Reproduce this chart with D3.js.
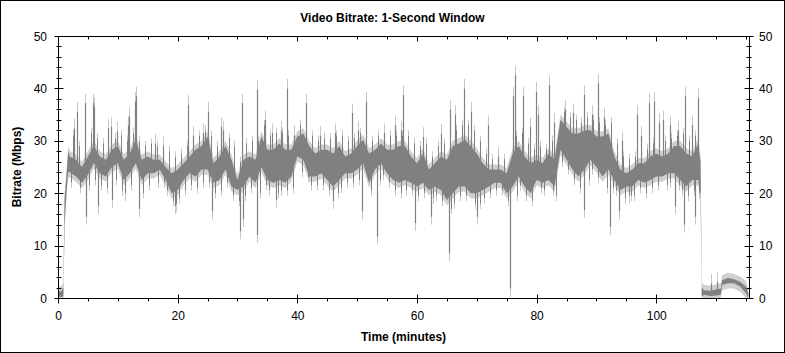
<!DOCTYPE html>
<html>
<head>
<meta charset="utf-8">
<script src="https://cdn.jsdelivr.net/npm/d3@7"></script>
<style>
  body { margin: 0; background: #fff; }
  svg { display: block; }
  text { font-family: Arial, "Liberation Sans", sans-serif; }
</style>
</head>
<body>
<svg id="chart"></svg>
<script>
// time in minutes and the dark band (typical low / high bitrate, Mbps)
const minutes = [0, 0.5, 0.9, 1.1, 1.4, 1.7, 2, 3, 4, 5, 6, 7, 8, 9, 10, 11, 12, 13, 14, 15, 16, 17, 18, 19, 20,
  21, 22, 23, 24, 25, 26, 27, 28, 29, 30, 31, 32, 33, 34, 35, 36, 37, 38, 39, 40, 41, 42, 43, 44, 45, 46, 47, 48, 49, 50,
  51, 52, 53, 54, 55, 56, 57, 58, 59, 60, 61, 62, 63, 64, 65, 66, 67, 68, 69, 70, 71, 72, 73, 74, 75, 76, 77, 78, 79, 80,
  81, 82, 83, 84, 85, 86, 87, 88, 89, 90, 91, 92, 93, 94, 95, 96, 97, 98, 99, 100, 101, 102, 103, 104, 105, 106, 107,
  107.4, 107.6, 108, 109, 110, 110.8, 111, 112, 113, 114, 115, 115.4];
const bandLow = [0.3, 0.2, 0.3, 14, 20, 24, 24, 23.2, 22, 23.5, 25.7, 23.8, 23.2, 25, 25.7, 22.5, 23.8, 25.7, 22.5, 23.8, 23.8, 24.5, 22.5, 20, 20.6,
  22.5, 23.8, 23.2, 24.5, 24.5, 22, 22.5, 24.5, 21.3, 20.6, 21.3, 23.2, 22, 25, 22.5, 22, 22.5, 22, 23.2, 27, 26.4, 23.2, 23.2, 23.8, 22.5, 21.3, 22.5, 23.8, 23.8, 24.5,
  25.7, 22, 24.5, 25.7, 23.8, 22.5, 22, 22.5, 22, 21.3, 22, 20.6, 21.3, 20.6, 18.7, 20, 21.3, 21.3, 20, 20, 20.6, 21.3, 22, 22, 20, 21.3, 23.2, 21.3, 20, 22.5,
  22, 22.5, 21.3, 28.3, 26.4, 24.5, 23.2, 24.5, 26.4, 25, 23.2, 24.5, 22.5, 20.6, 21.3, 21.3, 22.5, 22, 22.5, 23.2, 23.2, 23.8, 23.8, 22.5, 21.3, 22.5, 22.5,
  20, 0.3, 0.6, 0.4, 0.5, 0.6, 2.5, 2.8, 2.8, 2.2, 0.9, 0];
const bandHigh = [1.5, 1.2, 2, 19, 23, 28, 27, 26.4, 25, 27, 29, 27, 26.4, 28.3, 29, 26.4, 27.6, 30.2, 26.4, 27, 26.4, 26.4, 25, 23.8, 24.5,
  25.7, 27, 28.3, 29, 30.8, 25.7, 27, 29, 26.4, 22.5, 26.4, 27, 26.4, 30.8, 28.3, 28.3, 29.5, 28.3, 28.3, 30.8, 31.4, 29, 27.6, 28.3, 28.3, 27.6, 29, 27, 27.6, 29,
  30.2, 27.6, 28.3, 29.5, 28.3, 28.3, 29, 29, 27, 25.7, 27.6, 24.5, 25.7, 27, 26.4, 29, 29.5, 30.2, 29, 27.6, 25.7, 24.5, 24.5, 24.5, 23.8, 27.6, 29, 27, 25.7, 26.4,
  25.7, 27.6, 26.4, 34, 32.7, 31.4, 31.4, 32, 32, 30.8, 30.8, 31.4, 27, 24.5, 23.8, 24.5, 25.7, 25.7, 27, 27.6, 27, 27.6, 29, 29, 27.6, 27, 29.5,
  26, 2, 1.5, 1.4, 1.6, 1.8, 3.4, 3.8, 3.6, 3.1, 2.2, 0.8];

// tall short peaks above the band [minute, Mbps]
const peaks = [[2.6, 32.4], [3.2, 35.6], [4.5, 37.2], [5.9, 37.2], [6.1, 36.5], [8.4, 32.4], [8.9, 32.7], [9.8, 31.8],
  [11.7, 33], [11.9, 34.6], [12.8, 37.5], [13.0, 38.5], [16.2, 29.5], [17.6, 29], [21.7, 36.9], [22.6, 31], [24.3, 31.5], [25.1, 35.6],
  [27.3, 32.7], [27.6, 32], [30.7, 37.2], [33.3, 39.8], [34.6, 34], [35.8, 31.5], [37.2, 32], [38.3, 40], [39.5, 31], [41.4, 37.2],
  [43.8, 31], [46.3, 31.5], [49.1, 35.3], [50.1, 32], [51.4, 37.5], [54.5, 31.5], [56.3, 33], [57.4, 32], [57.6, 38.8], [61.0, 30.8],
  [64.0, 31.4], [65.6, 36], [66.4, 35], [67.9, 40], [69.1, 35.6], [71.9, 33], [73.6, 27], [76.0, 38.5], [76.4, 42.5], [77.7, 38.5],
  [78.9, 32.7], [79.9, 39.4], [80.2, 35], [82.0, 40.7], [82.9, 33.5], [84.8, 36], [86.1, 35.3], [87.9, 38.8], [89.2, 35], [90.3, 41],
  [91.2, 34.5], [94.3, 30], [96.7, 35], [97.5, 31], [98.8, 37.2], [99.7, 37.5], [100.4, 33.5], [101.2, 34], [102.3, 33], [103.6, 32],
  [104.8, 38.5], [105.9, 33], [107.0, 38.2], [110.2, 3.1], [109.1, 2.8]];

// deep short drops below the band [minute, Mbps]
const drops = [[4.6, 15.5], [6.7, 17.5], [9.1, 18.7], [11.2, 20], [13.6, 17], [19.5, 17.5], [19.7, 18], [25.7, 16.5],
  [30.5, 12.7], [30.9, 15], [33.2, 12], [36.4, 18.7], [45.9, 18.5], [50.8, 16.5], [53.4, 11.7], [59.7, 14.3], [62.3, 15.5],
  [65.4, 8.5], [70.0, 15.5], [75.6, 1.8], [88.0, 16.8], [92.2, 13.5], [93.7, 16.5], [95.4, 19.5], [103.1, 17.5], [104.6, 14], [106.4, 15.5]];

// smaller flicker above the band [minute, Mbps]
const flickerUp = [[2.5, 31], [3.5, 29], [5.5, 31.5], [6.5, 30.5], [7.5, 29.5], [9.5, 30.5], [10.5, 31], [11.5, 30], [12.5, 31.5],
  [13.5, 30], [14.5, 29], [15.5, 29.5], [16.5, 29], [17.5, 28.5], [18.5, 28], [19.5, 27], [20.5, 27.5], [21.5, 29], [22.5, 30],
  [23.5, 31], [24.5, 32], [25.5, 31], [26.5, 29], [28.5, 30.5], [29.5, 29], [30.5, 26], [31.5, 29.5], [32.5, 30], [33.5, 30],
  [34.5, 33], [35.5, 31], [36.5, 31.5], [37.5, 31.5], [38.5, 31], [39.5, 32], [40.5, 33], [41.5, 33], [42.5, 31], [43.5, 30],
  [44.5, 30.5], [45.5, 30.5], [46.5, 31], [47.5, 31], [48.5, 30], [49.5, 30.5], [50.5, 31.5], [51.5, 32], [52.5, 30], [53.5, 31],
  [54.5, 31.5], [55.5, 31], [56.5, 31], [57.5, 31], [58.5, 31], [59.5, 29.5], [60.5, 29], [61.5, 29.5], [62.5, 27], [63.5, 29],
  [64.5, 29.5], [65.5, 32], [66.5, 32], [67.5, 33], [68.5, 33], [69.5, 32], [70.5, 30], [71.5, 27.5], [72.5, 26.5], [73.5, 26.5],
  [74.5, 26.5], [75.5, 26], [76.5, 31], [77.5, 31.5], [78.5, 29.5], [79.5, 28.5], [80.5, 29], [81.5, 28.5], [82.5, 30], [83.5, 31],
  [84.5, 35.5], [85.5, 34.5], [86.5, 34], [87.5, 33.5], [88.5, 34.5], [89.5, 34], [90.5, 33.5], [91.5, 33], [92.5, 33.5], [93.5, 29.5],
  [94.5, 27], [95.5, 26.5], [96.5, 27], [97.5, 28], [98.5, 28.5], [99.5, 29.5], [100.5, 30], [101.5, 30], [102.5, 30.5], [103.5, 31],
  [104.5, 31.5], [105.5, 30], [106.5, 31]];

// smaller flicker below the band [minute, Mbps]
const flickerDown = [[2.25, 22], [3.75, 21], [5.25, 21.5], [6.25, 22.5], [7.25, 21.5], [8.25, 21], [9.75, 22.5], [10.75, 20.5],
  [12.25, 21.5], [14.25, 20], [15.25, 21.5], [16.75, 22], [17.75, 22], [18.25, 20.5], [19.25, 18.5], [20.25, 19], [21.25, 20.5],
  [22.25, 21.5], [23.25, 21], [24.25, 22], [25.25, 22], [26.25, 20], [27.25, 20.5], [28.25, 22], [29.25, 19.5], [30.25, 18.5],
  [31.25, 19.5], [32.25, 21], [33.75, 20], [34.75, 21.5], [35.25, 20.5], [36.75, 20], [37.25, 20.5], [38.25, 20.5], [39.25, 21],
  [40.75, 24], [41.75, 23], [42.25, 21.5], [43.25, 21.5], [44.25, 21.5], [45.25, 20.5], [46.75, 20], [47.25, 21], [48.25, 22],
  [49.25, 22], [50.25, 22.5], [51.75, 23], [52.25, 20.5], [53.75, 22.5], [54.25, 23.5], [55.25, 22], [56.25, 20.5], [57.25, 20],
  [58.25, 20.5], [59.25, 20.5], [60.25, 19.5], [61.25, 20], [62.75, 19], [63.25, 19.5], [64.25, 18.5], [65.75, 17], [66.25, 18],
  [67.25, 19.5], [68.25, 19.5], [69.75, 18], [70.5, 18], [71.25, 19], [72.25, 20], [73.25, 20.5], [74.25, 20.5], [75.25, 18.5],
  [76.75, 19.5], [77.25, 21.5], [78.25, 19.5], [79.25, 18.5], [80.75, 21], [81.25, 20.5], [82.75, 20.5], [83.25, 19.5], [84.25, 26],
  [85.25, 24.5], [86.25, 22.5], [87.25, 21], [88.75, 22.5], [89.25, 24.5], [90.25, 23], [91.75, 21], [92.75, 21], [93.25, 20.5],
  [94.75, 19], [95.75, 19.5], [96.25, 19.5], [97.25, 21], [98.25, 20], [99.25, 21], [100.25, 21.5], [101.75, 21.5], [102.25, 22],
  [103.75, 21.5], [104.25, 20.5], [105.25, 19.5], [106.25, 20.5], [107.2, 20]];

const xMajor = [0, 20, 40, 60, 80, 100];
const xMinor = d3.range(0, 116, 5);
const yMajor = [0, 10, 20, 30, 40, 50];
const yMinor = d3.range(0, 51, 2);

const W = 785, H = 353;
const margin = { top: 36, right: 36, bottom: 55, left: 58 };

const svg = d3.select("#chart").attr("width", W).attr("height", H);

// outer frame
svg.append("rect")
    .attr("x", 0.5).attr("y", 0.5)
    .attr("width", W - 1).attr("height", H - 1)
    .attr("fill", "#fff").attr("stroke", "#000");

const x = d3.scaleLinear().domain([0, 115.5]).range([margin.left, W - margin.right]);
const y = d3.scaleLinear().domain([0, 50]).range([H - margin.bottom, margin.top]);

const data = minutes.map((m, i) => ({ t: m, lo: bandLow[i], hi: bandHigh[i] }));

const plot = svg.append("g");

// light envelope
const pad = 1.0;
plot.append("path")
    .datum(data)
    .attr("fill", "#d0d0d0")
    .attr("d", d3.area()
        .x(d => x(d.t))
        .y0(d => y(Math.max(0, d.lo - pad)))
        .y1(d => y(d.hi + pad)));

// mid value of the band at a time
const mid = t => {
    const i = d3.bisector(d => d.t).center(data, t);
    return (data[i].lo + data[i].hi) / 2;
};
const px = t => Math.round(x(t)) + 0.5;

// a stem from the band to a value, with a light tip beyond it
function stems(list, dir, tip, width) {
    const g = plot.append("g");
    g.selectAll("line.tip").data(list).join("line")
        .attr("class", "tip")
        .attr("x1", d => px(d[0])).attr("x2", d => px(d[0]))
        .attr("y1", d => y(d[1])).attr("y2", d => y(Math.max(0, d[1] + dir * tip)))
        .attr("stroke", "#c8c8c8");
    g.selectAll("line.stem").data(list).join("line")
        .attr("class", "stem")
        .attr("x1", d => px(d[0])).attr("x2", d => px(d[0]))
        .attr("y1", d => y(mid(d[0]))).attr("y2", d => y(d[1]))
        .attr("stroke", "#808080").attr("stroke-width", width);
}
stems(flickerUp, 1, 1, 1);
stems(flickerDown, -1, 1, 1);

// dark band
plot.append("path")
    .datum(data)
    .attr("fill", "#808080")
    .attr("d", d3.area()
        .x(d => x(d.t))
        .y0(d => y(d.lo))
        .y1(d => y(d.hi)));

stems(peaks, 1, 1.8, 1.2);
stems(drops, -1, 1.5, 1.2);

// axes
const x0 = margin.left + 0.5, x1 = W - margin.right + 0.5;
const yTop = margin.top + 0.5, yBot = H - margin.bottom + 0.5;

const ax = svg.append("g").attr("stroke", "#000").attr("fill", "none");
ax.append("rect")
    .attr("x", x0).attr("y", yTop)
    .attr("width", x1 - x0).attr("height", yBot - yTop);

const snap = v => Math.round(v) + 0.5;

// left and right ticks
yMinor.forEach(v => {
    const yy = snap(y(v));
    const major = yMajor.includes(v);
    const o = major ? 4 : 2, i = major ? 5 : 3;
    ax.append("line").attr("x1", x0 - o).attr("x2", x0 + i).attr("y1", yy).attr("y2", yy);
    ax.append("line").attr("x1", x1 - i).attr("x2", x1 + o).attr("y1", yy).attr("y2", yy);
});

// bottom and top ticks
xMinor.forEach(v => {
    const xx = snap(x(v));
    const major = xMajor.includes(v);
    if (major) {
        ax.append("line").attr("x1", xx).attr("x2", xx).attr("y1", yBot - 4).attr("y2", yBot + 5);
        ax.append("line").attr("x1", xx).attr("x2", xx).attr("y1", yTop).attr("y2", yTop + 5);
    } else {
        ax.append("line").attr("x1", xx).attr("x2", xx).attr("y1", yBot).attr("y2", yBot + 3);
        ax.append("line").attr("x1", xx).attr("x2", xx).attr("y1", yTop).attr("y2", yTop + 3);
    }
});

// tick labels
const labels = svg.append("g").attr("font-size", 12).attr("fill", "#000");
labels.selectAll(".yl").data(yMajor).join("text")
    .attr("x", margin.left - 11).attr("y", d => y(d) + 4.5)
    .attr("text-anchor", "end").text(d => d);
labels.selectAll(".yr").data(yMajor).join("text")
    .attr("x", W - margin.right + 10).attr("y", d => y(d) + 4.5)
    .attr("text-anchor", "start").text(d => d);
labels.selectAll(".xl").data(xMajor).join("text")
    .attr("x", d => x(d) + 0.5).attr("y", H - margin.bottom + 22)
    .attr("text-anchor", "middle").text(d => d);

// titles
svg.append("text")
    .attr("x", W / 2).attr("y", 22)
    .attr("text-anchor", "middle")
    .attr("font-size", 12).attr("font-weight", "bold")
    .text("Video Bitrate: 1-Second Window");

svg.append("text")
    .attr("x", (margin.left + W - margin.right) / 2).attr("y", H - 12)
    .attr("text-anchor", "middle")
    .attr("font-size", 12).attr("font-weight", "bold")
    .text("Time (minutes)");

svg.append("text")
    .attr("transform", `translate(21, ${(margin.top + H - margin.bottom) / 2}) rotate(-90)`)
    .attr("text-anchor", "middle")
    .attr("font-size", 12).attr("font-weight", "bold")
    .text("Bitrate (Mbps)");
</script>
</body>
</html>
